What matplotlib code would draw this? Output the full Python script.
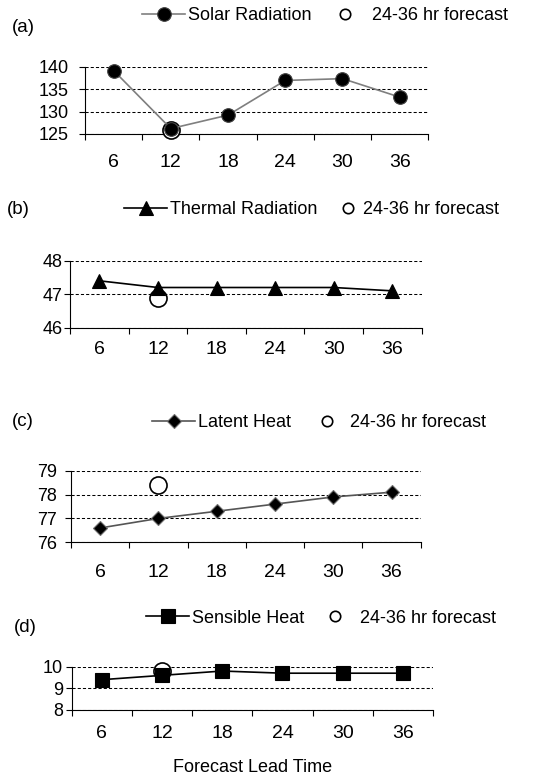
import numpy as np
import matplotlib.pyplot as plt
from matplotlib.transforms import ScaledTranslation

plt.rcParams['font.family'] = ['Liberation Sans', 'DejaVu Sans']

# data
lead = [6, 12, 18, 24, 30, 36]
solar = [139.1, 126.2, 129.2, 136.9, 137.3, 133.2]
thermal = [47.4, 47.2, 47.2, 47.2, 47.2, 47.1]
latent = [76.6, 77.0, 77.3, 77.6, 77.9, 78.1]
sensible = [9.4, 9.6, 9.8, 9.7, 9.7, 9.7]

fc_lead = 12
solar_fc = 126.0
thermal_fc = 46.9
latent_fc = 78.4
sensible_fc = 9.8

W, H = 539, 779
EM = 13 * 100 / 72.0

fig = plt.figure(figsize=(W / 100, H / 100), dpi=100)


def rect(l, t, r, b):
    return [l / W, 1 - b / H, (r - l) / W, (b - t) / H]


# one dict per panel
panels = [
    dict(tag='(a)', tagpos=(23, 28), box=(85, 66.5, 428.3, 134), vals=solar, fc=solar_fc,
         lim=(125, 140), yt=[125, 130, 135, 140], name='Solar Radiation',
         marker='o', ms=9.8, lc='#7f7f7f', mec='#404040', ypad=7.7, xpad=14.6,
         leg=(142, 345, 48, 16)),
    dict(tag='(b)', tagpos=(18, 210), box=(70, 260.7, 421.7, 327.7), vals=thermal, fc=thermal_fc,
         lim=(46, 48), yt=[46, 47, 48], name='Thermal Radiation',
         marker='^', ms=10.5, lc='black', mec='black', ypad=1.5, xpad=9.8,
         leg=(124, 348, 24, 210)),
    dict(tag='(c)', tagpos=(23, 421), box=(71, 470.7, 420.7, 542.3), vals=latent, fc=latent_fc,
         lim=(76, 79), yt=[76, 77, 78, 79], name='Latent Heat',
         marker='D', ms=6.8, lc='#555555', mec='#707070', ypad=6, xpad=15.8,
         leg=(152, 327, 40, 422.5)),
    dict(tag='(d)', tagpos=(25, 627), box=(71.7, 666.7, 433, 710), vals=sensible, fc=sensible_fc,
         lim=(8, 10), yt=[8, 9, 10], name='Sensible Heat',
         marker='s', ms=9.4, lc='black', mec='black', ypad=2.4, xpad=11,
         leg=(146, 335, 44, 618.3)),
]

x = np.arange(len(lead))
fx = lead.index(fc_lead)

for p in panels:
    ax = fig.add_axes(rect(*p['box']))
    circ, = ax.plot([fx], [p['fc']], 'o', ms=12.3, mfc='white', mec='black', mew=1.2,
                    zorder=3, clip_on=False)
    line, = ax.plot(x, p['vals'], color=p['lc'], lw=1.2, marker=p['marker'], ms=p['ms'],
                    mfc='black', mec=p['mec'], mew=0.8, zorder=4, clip_on=False)

    ax.set_xlim(-0.5, len(lead) - 0.5)
    ax.set_ylim(*p['lim'])
    ax.set_yticks(p['yt'])
    ax.set_xticks(np.arange(len(lead) + 1) - 0.5)
    ax.set_xticklabels([])
    ax.set_xticks(x, minor=True)
    ax.set_xticklabels([str(v) for v in lead], minor=True)
    # category labels sit a few pixels right of the band centres in the original
    for lab in ax.get_xticklabels(minor=True):
        lab.set_transform(lab.get_transform() + ScaledTranslation(3 / 100, 0, fig.dpi_scale_trans))
    ax.tick_params(axis='x', which='major', direction='out', length=4, width=0.8)
    ax.tick_params(axis='x', which='minor', length=0, pad=p['xpad'], labelsize=14)
    ax.tick_params(axis='y', direction='out', length=4, width=0.8, pad=p['ypad'], labelsize=13)
    for s in ['top', 'right']:
        ax.spines[s].set_visible(False)
    ax.yaxis.grid(True, linestyle=(0, (3, 2)), color='black', lw=0.75)
    ax.set_axisbelow(True)

    fig.text(p['tagpos'][0] / W, 1 - p['tagpos'][1] / H, p['tag'], fontsize=13.5,
             ha='center', va='center')

    x1, x2c, L2, ly = p['leg']
    leg1 = ax.legend([line], [p['name']], loc='center left',
                     bbox_to_anchor=(x1 / W, 1 - ly / H), bbox_transform=fig.transFigure,
                     frameon=False, borderpad=0, borderaxespad=0, handlelength=2.4,
                     handletextpad=0.17, fontsize=13)
    ax.add_artist(leg1)
    leg2 = ax.legend([circ], ['24-36 hr forecast'], loc='center left',
                     bbox_to_anchor=((x2c - L2 / 2) / W, 1 - ly / H),
                     bbox_transform=fig.transFigure, frameon=False, borderpad=0,
                     borderaxespad=0, handlelength=L2 / EM, handletextpad=0.17, fontsize=13)
    leg2.legend_handles[0].set_markersize(7.5)

fig.text(252.7 / W, 1 - 767 / H, 'Forecast Lead Time', fontsize=13, ha='center', va='center')

plt.savefig('out.png', dpi=100)
